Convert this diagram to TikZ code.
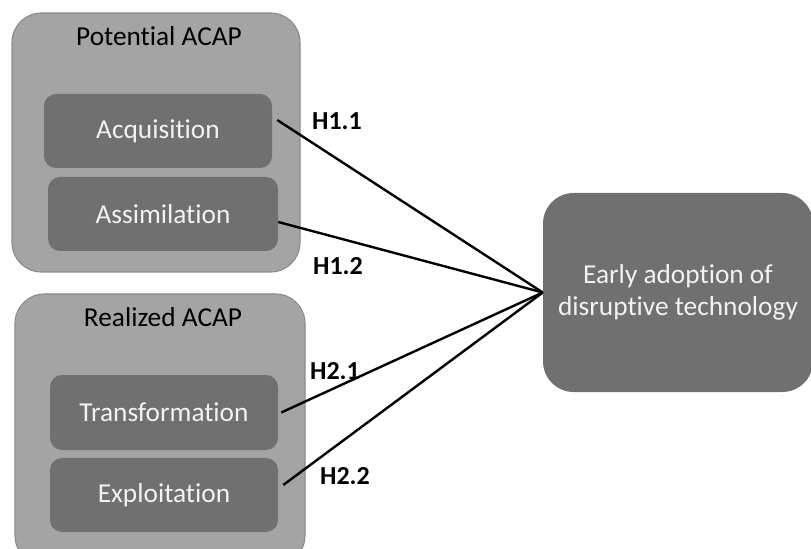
\documentclass[tikz,border=0pt]{standalone}
\usepackage{fontspec}
\setmainfont[Ligatures=NoCommon]{Carlito}
\usetikzlibrary{calc}
\definecolor{groupfill}{HTML}{A4A4A4}
\definecolor{groupline}{HTML}{8C8C8C}
\definecolor{dimfill}{HTML}{707070}
\definecolor{dimtext}{HTML}{F2F2F2}
\begin{document}
\begin{tikzpicture}[x=0.75pt,y=-0.75pt,
  groupbox/.style={draw=groupline,line width=0.8pt,fill=groupfill,rounded corners=22pt,inner sep=0pt},
  dimbox/.style={fill=dimfill,rounded corners=9pt,inner sep=0pt,text=dimtext,font=\fontsize{20.5}{24}\selectfont},
  grouptitle/.style={font=\fontsize{20.5}{24}\selectfont,text=black},
  hyp/.style={font=\bfseries\fontsize{19.5}{24}\selectfont,text=black},
  link/.style={line width=1.8pt,black}]
\useasboundingbox (0,0) rectangle (811,549);

% absorptive capacity groups
\node[groupbox,minimum width=216pt,minimum height=194.25pt] (pot) at (156,142.5) {};
\node[groupbox,minimum width=217.5pt,minimum height=203.25pt] (rea) at (160,429.5) {};
\node[grouptitle] (pottitle) at (159,36) {Potential ACAP};
\node[grouptitle] (reatitle) at (163,317) {Realized ACAP};

% dimensions
\node[dimbox,minimum width=171pt,minimum height=55.5pt] (acq) at (158,131) {Acquisition};
\node[dimbox,minimum width=172.5pt,minimum height=55.5pt] (ass) at (163,214) {Assimilation};
\node[dimbox,minimum width=171pt,minimum height=56.25pt] (tra) at (164,412.5) {Transformation};
\node[dimbox,minimum width=171pt,minimum height=55.5pt] (exp) at (164,495) {Exploitation};

% outcome
\node[fill=dimfill,rounded corners=23pt,minimum width=202.5pt,minimum height=149.25pt,inner sep=0pt,
      text=dimtext,align=center,font=\fontsize{20.5}{24}\selectfont] (out) at (678,292.5)
      {Early adoption of\\disruptive technology};

% hypothesised links
\draw[link] ($(acq.east)+(5,-11)$) -- (out.west);
\draw[link] ($(ass.east)+(0,8)$) -- (out.west);
\draw[link] ($(tra.east)+(3,0)$) -- (out.west);
\draw[link] ($(exp.east)+(5,-10)$) -- (out.west);

\node[hyp] (h11) at (337,121) {H1.1};
\node[hyp] (h12) at (338,266) {H1.2};
\node[hyp] (h21) at (335,371) {H2.1};
\node[hyp] (h22) at (345,476) {H2.2};
\end{tikzpicture}
\end{document}
